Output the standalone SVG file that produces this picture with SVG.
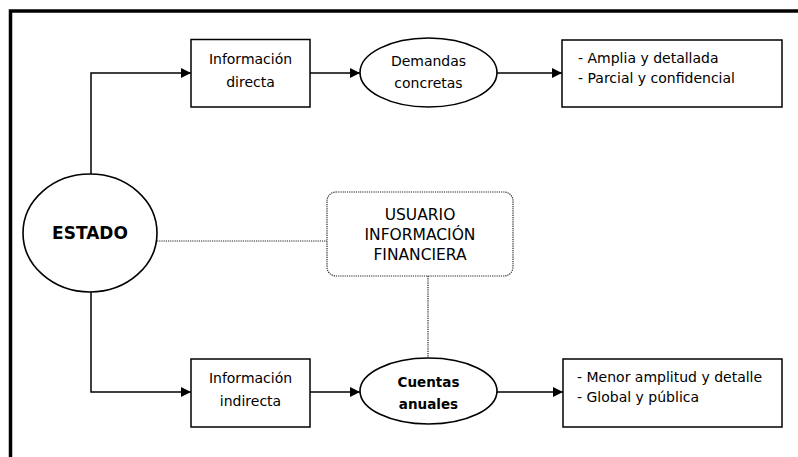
<svg xmlns="http://www.w3.org/2000/svg" width="798" height="457" viewBox="0 0 798 457">
  <defs>
    <marker id="arrow" viewBox="0 0 10 10" refX="10" refY="5" markerWidth="10" markerHeight="11" markerUnits="userSpaceOnUse" orient="auto">
      <path d="M0,0 L10,5 L0,10 Z" fill="#000"/>
    </marker>
    <style>
      .frame { stroke: #000; stroke-width: 3.5; fill: none; }
      .box { fill: #fff; stroke: #000; stroke-width: 1.5; }
      .oval { fill: #fff; stroke: #000; stroke-width: 1.6; }
      .dotbox { fill: #fff; stroke: #222; stroke-width: 1.2; stroke-dasharray: 1.2 1; }
      .link { fill: none; stroke: #000; stroke-width: 1.5; }
      .dots { fill: none; stroke: #222; stroke-width: 1.2; stroke-dasharray: 1.2 1; }
      text { font-family: "DejaVu Sans", "Liberation Sans", sans-serif; font-size: 14px; fill: #000; }
      .c { text-anchor: middle; }
      .b { font-weight: bold; }
      .caps { font-size: 15.5px; }
    </style>
  </defs>

  <rect width="798" height="457" fill="#fff"/>

  <!-- outer frame (top and left edges) -->
  <path class="frame" d="M10.5,457 V11 H798"/>

  <!-- connectors -->
  <g id="connectors">
    <path class="link" d="M91,174 V73 H191" marker-end="url(#arrow)"/>
    <path class="link" d="M310,73 H360" marker-end="url(#arrow)"/>
    <path class="link" d="M497,73 H562" marker-end="url(#arrow)"/>
    <path class="link" d="M91,292 V392 H191" marker-end="url(#arrow)"/>
    <path class="link" d="M310,392 H360" marker-end="url(#arrow)"/>
    <path class="link" d="M497,392 H563" marker-end="url(#arrow)"/>
    <path class="dots" d="M157,241 H327"/>
    <path class="dots" d="M428,276 V358"/>
  </g>

  <g id="estado">
    <ellipse class="oval" cx="90" cy="233" rx="67" ry="59"/>
    <text class="c b" x="90" y="239" style="font-size:17px">ESTADO</text>
  </g>

  <g id="info-directa">
    <rect class="box" x="191" y="39.5" width="119" height="67.5"/>
    <text class="c" x="250.5" y="64">Información</text>
    <text class="c" x="250.5" y="87">directa</text>
  </g>

  <g id="demandas">
    <ellipse class="oval" cx="428.5" cy="72.5" rx="68.5" ry="34.5"/>
    <text class="c" x="428.5" y="66">Demandas</text>
    <text class="c" x="428.5" y="88">concretas</text>
  </g>

  <g id="caracteristicas-directa">
    <rect class="box" x="562" y="40" width="220" height="67"/>
    <text x="578" y="63">- Amplia y detallada</text>
    <text x="578" y="83">- Parcial y confidencial</text>
  </g>

  <g id="usuario">
    <rect class="dotbox" x="327" y="192" width="186" height="84" rx="9"/>
    <text class="c caps" x="420" y="220">USUARIO</text>
    <text class="c caps" x="420" y="240">INFORMACIÓN</text>
    <text class="c caps" x="420" y="260">FINANCIERA</text>
  </g>

  <g id="info-indirecta">
    <rect class="box" x="191" y="359" width="119" height="68"/>
    <text class="c" x="250.5" y="383">Información</text>
    <text class="c" x="250.5" y="406">indirecta</text>
  </g>

  <g id="cuentas">
    <ellipse class="oval" cx="428.5" cy="391" rx="68.5" ry="33"/>
    <text class="c b" x="428.5" y="387" style="font-size:13.5px">Cuentas</text>
    <text class="c b" x="428.5" y="409" style="font-size:13.5px">anuales</text>
  </g>

  <g id="caracteristicas-indirecta">
    <rect class="box" x="563" y="359" width="219" height="68"/>
    <text x="577" y="382">- Menor amplitud y detalle</text>
    <text x="577" y="402">- Global y pública</text>
  </g>
</svg>
